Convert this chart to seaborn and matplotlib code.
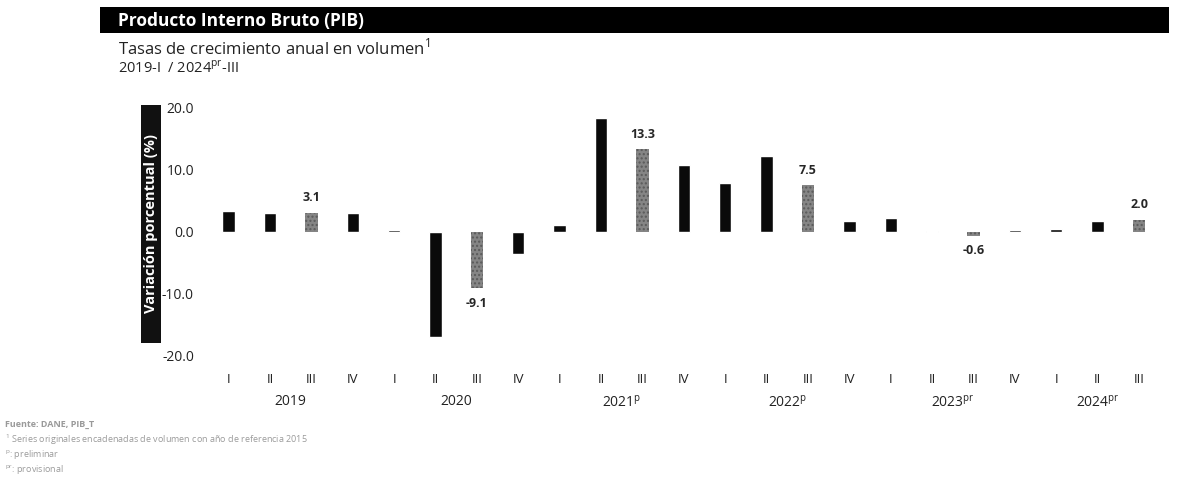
import numpy as np
import pandas as pd
import seaborn as sns
from matplotlib import pyplot as plt
from matplotlib.patches import Rectangle
from matplotlib.transforms import blended_transform_factory

#%% Data

QUARTERS = ['I', 'II', 'III', 'IV'] * 5 + ['I', 'II', 'III']
YEARS = ['2019', '2020', '2021$^{\\mathregular{p}}$', '2022$^{\\mathregular{p}}$',
         '2023$^{\\mathregular{pr}}$', '2024$^{\\mathregular{pr}}$']
GROWTH = [3.3, 3.0, 3.1, 3.0,
          0.3, -17.0, -9.1, -3.6,
          1.1, 18.4, 13.3, 10.8,
          7.9, 12.3, 7.5, 1.8,
          2.2, 0.2, -0.6, 0.3,
          0.5, 1.7, 2.0]

#%% Plot

sns.set_style('white')
plt.rcParams['font.family'] = ['Open Sans', 'DejaVu Sans']

periods = []
for i, q in enumerate(QUARTERS):
    periods.append('{}-{}'.format(2019 + i // 4, q))
df = pd.DataFrame({'periodo': periods, 'trimestre': QUARTERS, 'valor': GROWTH})
colours = ['#858585' if q == 'III' else '#0a0a0a' for q in QUARTERS]

fig = plt.figure(figsize=(11.81, 4.95), dpi=100)
ax = fig.add_axes([0.176, 0.281, 0.806, 0.501])

sns.barplot(data=df, x='periodo', y='valor', hue='periodo', palette=colours,
            legend=False, width=0.3, saturation=1, ax=ax)
for patch, q in zip(ax.patches, QUARTERS):
    if q == 'III':
        patch.set_hatch('....')
        patch.set_edgecolor('#5a5a5a')
        patch.set_linewidth(0)

ax.set_ylim(-20, 20)
ax.set_xlim(-0.5, len(GROWTH) - 0.5)
ax.set_yticks([-20, -10, 0, 10, 20])
ax.set_yticklabels(['{:.1f}'.format(v) for v in [-20, -10, 0, 10, 20]],
                   fontsize=10, color='#222222')
ax.set_xticks(range(len(QUARTERS)))
ax.set_xticklabels(QUARTERS, fontsize=9.5, color='#222222')
ax.tick_params(axis='both', length=0)
ax.tick_params(axis='y', pad=10)
ax.tick_params(axis='x', pad=12)
ax.set_xlabel('')
ax.set_ylabel('')
sns.despine(ax=ax, left=True, bottom=True)

# value labels on third quarters
for i, (q, v) in enumerate(zip(QUARTERS, GROWTH)):
    if q == 'III':
        if v >= 0:
            ax.annotate('{:.1f}'.format(v), (i, v), xytext=(0, 6), textcoords='offset points',
                        ha='center', va='bottom', fontsize=9, fontweight='bold')
        else:
            ax.annotate('{:.1f}'.format(v), (i, v), xytext=(0, -6), textcoords='offset points',
                        ha='center', va='top', fontsize=9, fontweight='bold')

# year labels
trans = blended_transform_factory(ax.transData, ax.transAxes)
for y, year in enumerate(YEARS):
    n = sum(1 for k in range(len(QUARTERS)) if k // 4 == y)
    centre = y * 4 + (n - 1) / 2
    ax.text(centre, -0.155, year, transform=trans, ha='center', va='top',
            fontsize=10, color='#222222')

# title bar
fig.patches.append(Rectangle((0.085, 0.933), 0.905, 0.052, transform=fig.transFigure,
                             facecolor='black', edgecolor='none'))
fig.text(0.1, 0.958, 'Producto Interno Bruto (PIB)', color='white', fontsize=12.5,
         fontweight='bold', va='center')
fig.text(0.1, 0.902, 'Tasas de crecimiento anual en volumen$^{\\mathregular{1}}$',
         fontsize=12, color='#222222', va='center')
fig.text(0.1, 0.862, '2019-I  / 2024$^{\\mathregular{pr}}$-III', fontsize=10.5,
         color='#222222', va='center')

# y-axis label box
fig.patches.append(Rectangle((0.119, 0.307), 0.017, 0.481, transform=fig.transFigure,
                             facecolor='#111111', edgecolor='none'))
fig.text(0.1275, 0.548, 'Variación porcentual (%)', rotation=90, color='white',
         fontsize=10.5, fontweight='bold', ha='center', va='center')

# footnotes
notes = ['Fuente: DANE, PIB_T',
         '$^{\\mathregular{1}}$ Series originales encadenadas de volumen con año de referencia 2015',
         '$^{\\mathregular{p}}$: preliminar',
         '$^{\\mathregular{pr}}$: provisional']
for k, note in enumerate(notes):
    fig.text(0.004, 0.142 - k * 0.03, note, fontsize=6.5, color='#9a9a9a', va='center',
             fontweight='bold' if k == 0 else 'normal')

plt.savefig('out.png', dpi=100)
plt.close()
